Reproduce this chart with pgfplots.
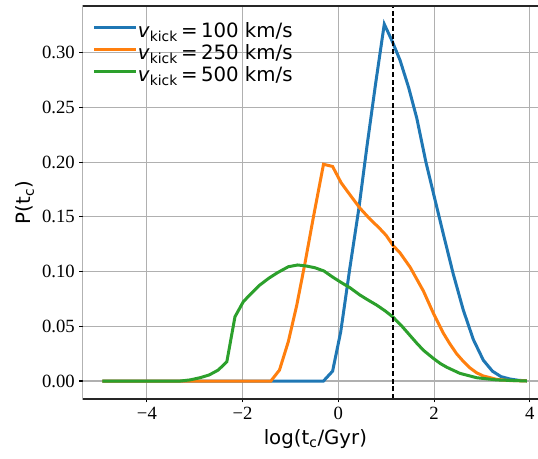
\documentclass[border=0pt]{standalone}
\usepackage{fontspec}
\setmainfont{DejaVu Sans}
\newfontfamily\tickfont{Liberation Serif}
\usepackage{pgfplots}
\pgfplotsset{compat=1.18}
\definecolor{tabblue}{HTML}{1F77B4}
\definecolor{taborange}{HTML}{FF7F0E}
\definecolor{tabgreen}{HTML}{2CA02C}
\definecolor{gridgray}{HTML}{B0B0B0}
\begin{document}
\begin{tikzpicture}
\begin{axis}[
  name=ax,
  scale only axis,
  width=349pt, height=294.75pt,
  xmin=-5.342, xmax=4.382,
  ymin=-0.01644, ymax=0.3426,
  xtick={-4,-2,0,2,4},
  xticklabels={−4,−2,0,2,4},
  ytick={0,0.05,0.10,0.15,0.20,0.25,0.30},
  yticklabels={0.00,0.05,0.10,0.15,0.20,0.25,0.30},
  /pgf/number format/assume math mode=true,
  tick pos=left,
  tick align=outside,
  major tick length=2.6pt,
  every tick/.style={black, line width=0.8pt},
  tick label style={font=\tickfont\fontsize{14}{16}\selectfont, inner sep=0pt},
  xticklabel style={anchor=north, yshift=-3.2pt},
  yticklabel style={anchor=east, xshift=-3.2pt},
  grid=major,
  major grid style={gridgray, line width=0.8pt},
  axis line style={draw=none},
  label style={font=\fontsize{14.8}{17}\selectfont},
  xlabel={log(t\textsubscript{c}/Gyr)},
  ylabel={P(t\textsubscript{c})},
  xlabel style={at={(axis description cs:0.5,-0.1018)}, anchor=center},
  ylabel style={at={(axis description cs:-0.124,0.5)}, anchor=center},
  legend style={draw=none, fill=none, inner sep=0pt, outer sep=0pt,
    at={(axis description cs:0.022,0.9556)}, anchor=north west,
    font=\fontsize{14.8}{17}\selectfont, row sep=0pt,
    nodes={inner sep=0pt, text height=10.5pt, text depth=6pt}},
  /tikz/every even column/.append style={column sep=1.5pt},
  legend cell align=left,
  legend image code/.code={\draw[#1, line width=2.25pt] (0pt,5.2pt) -- (31.5pt,5.2pt);},
]
\addplot[tabblue, line width=2.25pt] coordinates {
(-4.93,0) (-0.31,0) (-0.12,0.009) (0.05,0.045) (0.24,0.103) (0.43,0.158) (0.60,0.215) (0.78,0.272) (0.96,0.326) (1.12,0.311) (1.29,0.293) (1.47,0.268) (1.64,0.240) (1.83,0.200) (1.99,0.171) (2.19,0.135) (2.40,0.098) (2.61,0.065) (2.82,0.038) (3.03,0.019) (3.22,0.009) (3.40,0.004) (3.59,0.0018) (3.77,0.0006) (3.94,0.0002)
};
\addlegendentry{\textit{v}\textsubscript{kick}\,=\,100 km/s}
\addplot[taborange, line width=2.25pt] coordinates {
(-4.93,0) (-1.41,0) (-1.23,0.010) (-1.045,0.036) (-0.87,0.069) (-0.70,0.107) (-0.52,0.150) (-0.31,0.198) (-0.12,0.196) (0.06,0.181) (0.245,0.170) (0.45,0.158) (0.66,0.148) (0.85,0.140) (1.00,0.133) (1.14,0.124) (1.29,0.117) (1.50,0.104) (1.64,0.093) (1.78,0.082) (1.985,0.062) (2.19,0.044) (2.33,0.034) (2.47,0.025) (2.61,0.018) (2.75,0.012) (2.89,0.0075) (3.03,0.0046) (3.31,0.0015) (3.59,0.0004) (3.94,0.0001)
};
\addlegendentry{\textit{v}\textsubscript{kick}\,=\,250 km/s}
\addplot[tabgreen, line width=2.25pt] coordinates {
(-4.93,0) (-3.30,0) (-3.10,0.001) (-2.89,0.003) (-2.70,0.0055) (-2.51,0.010) (-2.33,0.0176) (-2.16,0.0587) (-1.985,0.0725) (-1.82,0.080) (-1.64,0.0877) (-1.45,0.094) (-1.27,0.099) (-1.045,0.1044) (-0.85,0.106) (-0.66,0.105) (-0.49,0.1035) (-0.30,0.1005) (-0.12,0.095) (0.06,0.090) (0.25,0.085) (0.45,0.0786) (0.62,0.074) (0.80,0.0694) (0.98,0.064) (1.14,0.0585) (1.32,0.0505) (1.50,0.0415) (1.64,0.0345) (1.78,0.028) (1.985,0.0207) (2.13,0.016) (2.27,0.0125) (2.54,0.007) (2.89,0.003) (3.31,0.001) (3.94,0)
};
\addlegendentry{\textit{v}\textsubscript{kick}\,=\,500 km/s}
\addplot[black, line width=1.1pt, dash pattern=on 3.75pt off 2pt, forget plot] coordinates {(1.14,-0.01644) (1.14,0.3426)};
\draw[black!85, line width=0.8pt] (rel axis cs:1,0) -- (rel axis cs:0,0) -- (rel axis cs:0,1) -- (rel axis cs:1,1);
\end{axis}
\pgfresetboundingbox
\useasboundingbox ([xshift=-62.025pt, yshift=-44.25pt]ax.south west) rectangle ([xshift=341.475pt, yshift=299.25pt]ax.south west);
\end{tikzpicture}
\end{document}
